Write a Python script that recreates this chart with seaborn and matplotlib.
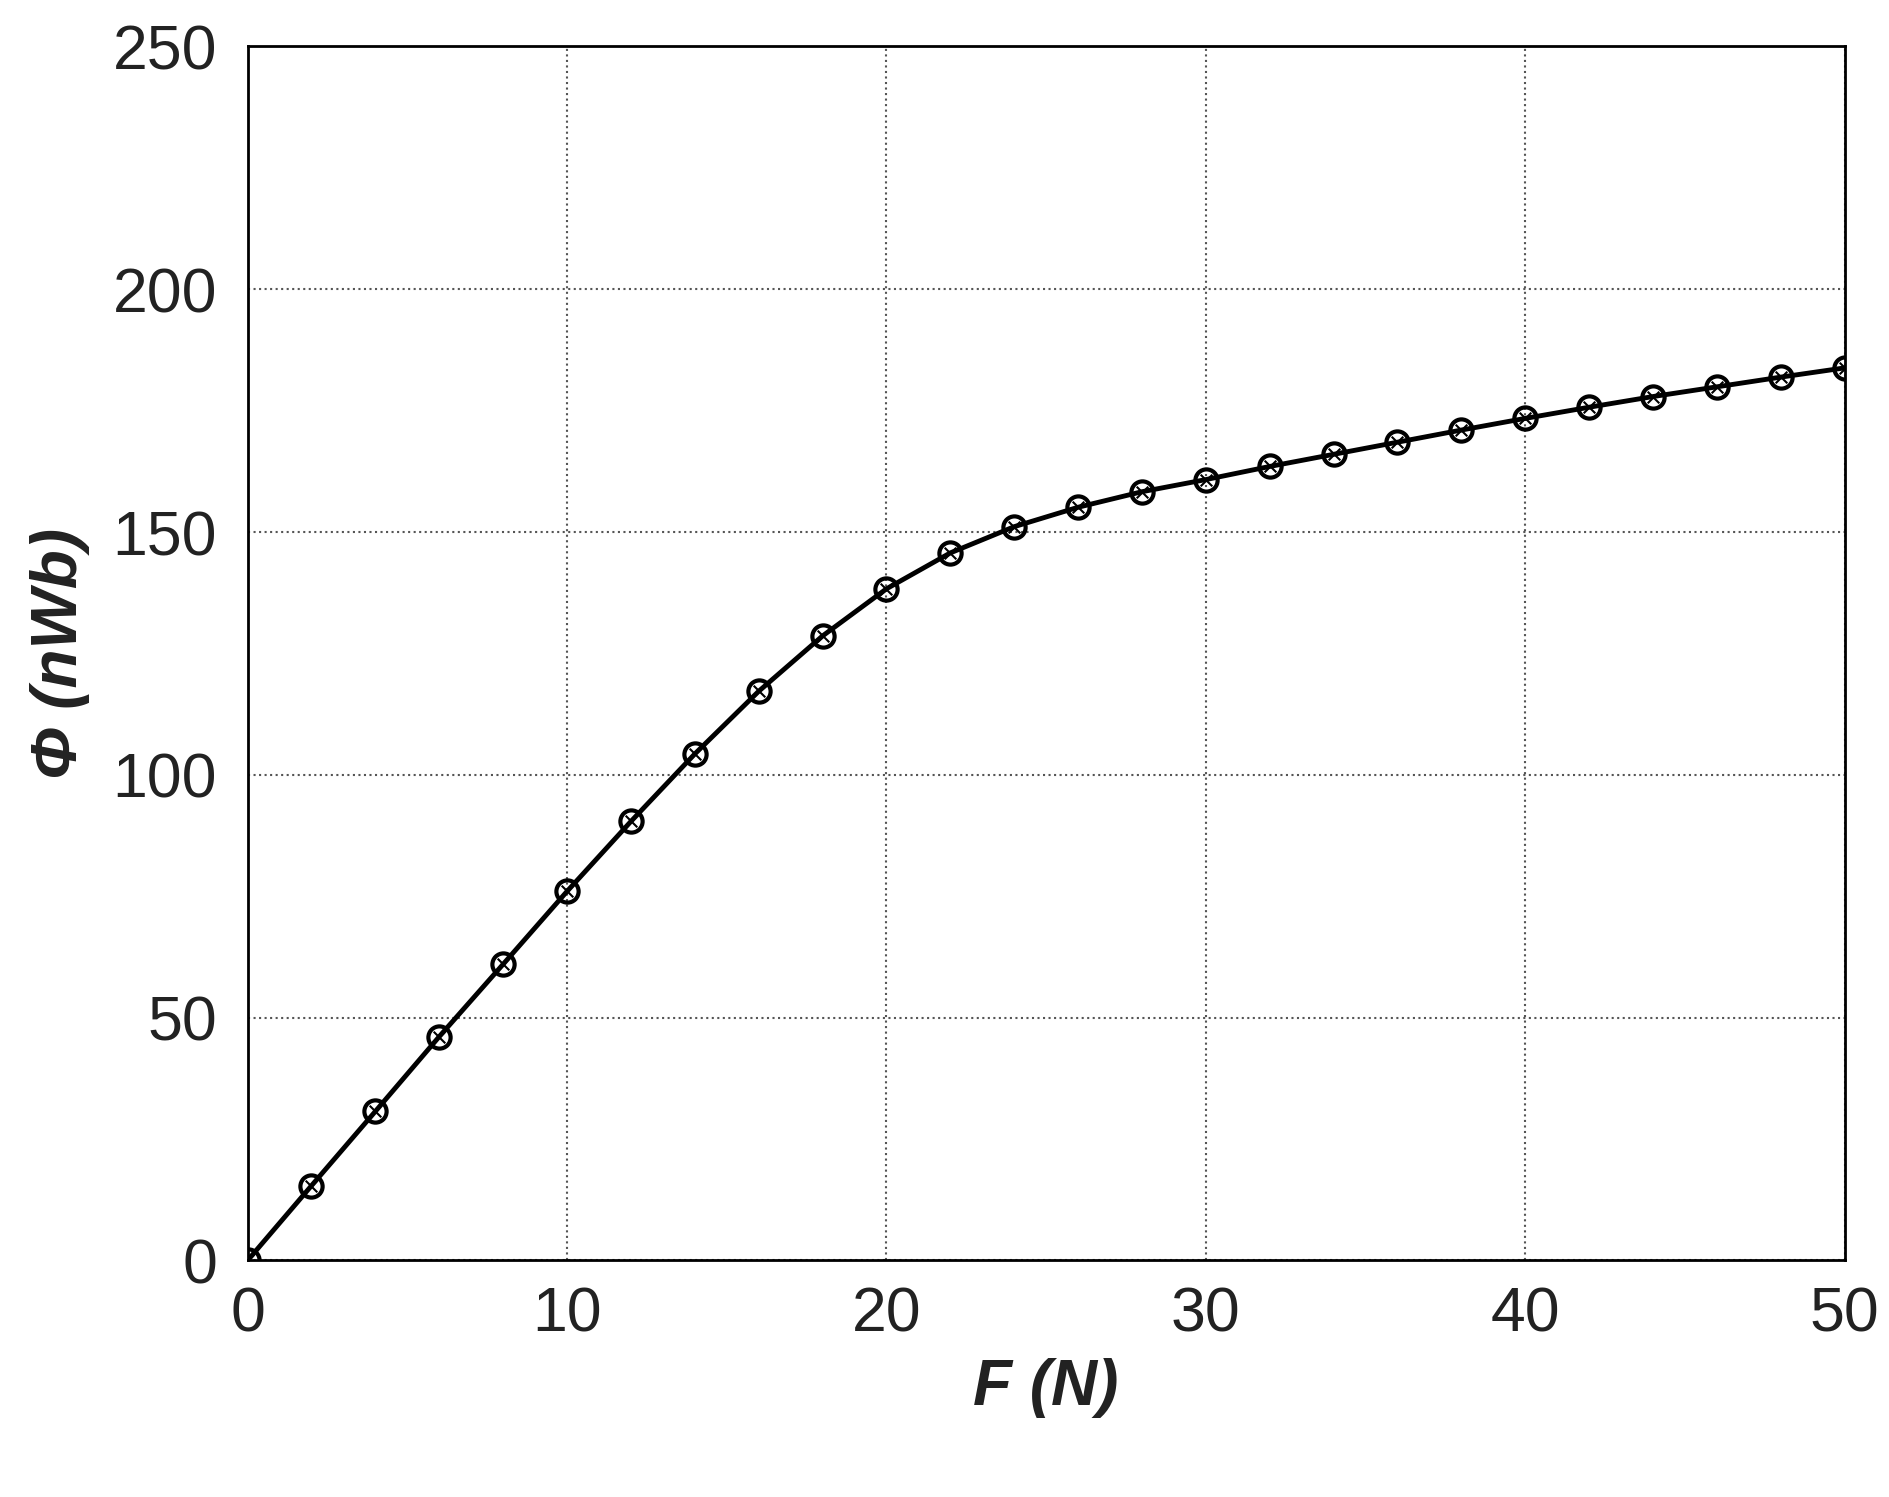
import matplotlib
matplotlib.use("Agg")
import matplotlib.pyplot as plt
import seaborn as sns
import pandas as pd

# force F (N) and flux Phi (nWb)
force = [0, 2, 4, 6, 8, 10, 12, 14, 16, 18, 20, 22, 24, 26, 28, 30,
         32, 34, 36, 38, 40, 42, 44, 46, 48, 50]
flux = [0, 15.4, 30.7, 46.1, 61.0, 76.0, 90.4, 104.3, 117.2, 128.6, 138.3,
        145.7, 151.1, 155.1, 158.3, 160.8, 163.5, 166.0, 168.5, 171.0,
        173.4, 175.7, 177.9, 179.9, 181.9, 183.8]

df = pd.DataFrame({"F": force, "Phi": flux})

sns.set_style("white")
plt.rcParams["font.family"] = ["Liberation Sans", "DejaVu Sans"]

fig = plt.figure(figsize=(18.9, 14.97), dpi=100)
ax = fig.add_axes([0.131, 0.158, 0.845, 0.811])

sns.lineplot(data=df, x="F", y="Phi", ax=ax, color="black", linewidth=3.5,
             marker="o", markersize=16, markerfacecolor="none",
             markeredgecolor="black", markeredgewidth=3)
sns.scatterplot(data=df, x="F", y="Phi", ax=ax, marker="x", s=70,
                color="black", linewidth=1.5, zorder=4)

ax.set_xlim(0, 50)
ax.set_ylim(0, 250)
ax.set_xticks(range(0, 51, 10))
ax.set_yticks(range(0, 251, 50))
ax.grid(True, color="#555555", linestyle=":", linewidth=1.5)
for s in ax.spines.values():
    s.set_color("black")
    s.set_linewidth(2)
ax.tick_params(labelsize=45, length=0, colors="#222222")
ax.tick_params(axis="y", pad=22)
ax.tick_params(axis="x", pad=18)
ax.set_xlabel("F (N)", fontsize=46, fontweight="bold", style="italic",
              color="#222222", labelpad=10)
ax.set_ylabel("Φ (nWb)", fontsize=46, fontweight="bold", style="italic",
              color="#222222", labelpad=16)

fig.savefig("out.png", dpi=100)
